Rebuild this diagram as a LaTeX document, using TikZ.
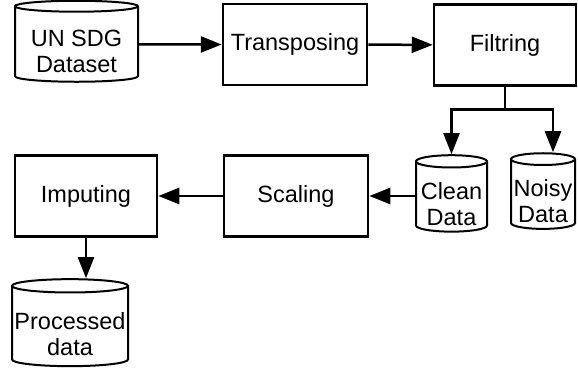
\documentclass[tikz,border=0pt]{standalone}
\usepackage{fontspec}
\setmainfont{Liberation Sans}
\usetikzlibrary{%
   arrows.meta,%
   shapes.geometric,%
   positioning%
}

\begin{document}
\begin{tikzpicture}[x=1pt,y=-1pt,
	>={Triangle[length=21pt,width=16pt]},
	process/.style={
	rectangle,
	line width=2.5pt,
	draw=black,
	minimum width=144pt,
	minimum height=81pt,
	inner sep=0pt,
	align=center,
	font=\fontsize{23.5}{26}\selectfont
	},store/.style={
	cylinder,
	shape border rotate=90,
	line width=2pt,
	draw=black,
	inner sep=0pt,
	text height=57pt,
	text depth=0pt,
	align=center,
	font=\fontsize{23.5}{26}\selectfont
	},flow/.style={
	->,line width=2.5pt
	}
]
\useasboundingbox (0,0) rectangle (578,371);

% first row
\node (sdg) [store,minimum width=123pt,minimum height=81pt,aspect=0.12] at (76.5,44.5) {UN SDG\\Dataset};
\node (trans) [process] at (295,44.5) {Transposing};
\node (filt) [process,minimum width=142pt] at (505,45) {Filtring};

% second row
\node (clean) [store,minimum width=71pt,minimum height=75pt,aspect=0.2] at (451.5,197) {Clean\\Data};
\node (noisy) [store,minimum width=64pt,minimum height=75pt,aspect=0.2] at (543,194.5) {Noisy\\Data};
\node (scal) [process] at (296,196) {Scaling};
\node (imp) [process,minimum width=142pt] at (86,196) {Imputing};

% third row
\node (proc) [store,minimum width=116pt,minimum height=87pt,aspect=0.12] at (70,326.5) {Processed\\data};

\coordinate (fork) at ([yshift=-23pt]filt.south);

\draw[flow] (sdg) -- (trans);
\draw[flow] (trans) -- (filt);
\draw[line width=2.5pt] (filt.south) -- (fork);
\draw[flow] (fork) -| (clean.north);
\draw[flow] (fork) -| ([xshift=10pt]noisy.north);
\draw[flow] (clean.west |- scal.east) -- (scal.east);
\draw[flow] (scal) -- (imp);
\draw[flow] (imp.south) -- (imp.south |- proc.north);

\end{tikzpicture}
\end{document}
